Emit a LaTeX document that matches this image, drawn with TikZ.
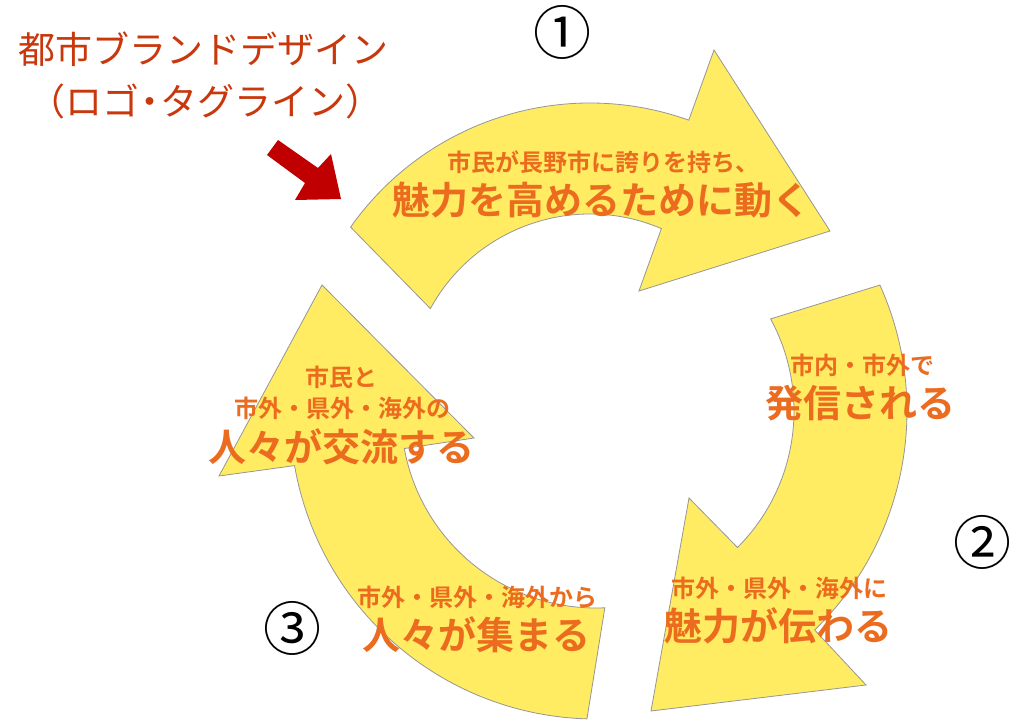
\documentclass[tikz,border=0pt]{standalone}
\usepackage{fontspec}
\usetikzlibrary{calc}
\newfontfamily\jp{Noto Sans CJK JP}[BoldFont={Noto Sans CJK JP Bold}]
\definecolor{arrowfill}{RGB}{255,236,99}
\definecolor{arrowline}{RGB}{150,150,150}
\definecolor{labelorange}{RGB}{236,108,31}
\definecolor{titlered}{RGB}{200,56,12}
\definecolor{markred}{RGB}{192,0,0}
\begin{document}
\begin{tikzpicture}[x=1pt,y=-1pt,
  cyclearrow/.style={fill=arrowfill,draw=arrowline,line width=0.8pt,line join=miter},
  smalllabel/.style={inner sep=0pt,text=labelorange,font=\jp\bfseries\fontsize{24}{24}\selectfont},
  biglabel/.style={inner sep=0pt,text=labelorange,font=\jp\bfseries\fontsize{38}{38}\selectfont},
  titletext/.style={inner sep=0pt,text=titlered,font=\jp\fontsize{37}{37}\selectfont},
  stepnum/.style={inner sep=0pt,font=\jp\fontsize{58}{58}\selectfont}]
\useasboundingbox (0,0) rectangle (1010,726);
\fill[white] (0,0) rectangle (1010,726);

% cycle arrows
\coordinate (c1) at (590,396);
\coordinate (c2) at (601,411);
\coordinate (c3) at (596,413);
\draw[cyclearrow] ($(c1)+(215.2:293)$) arc[start angle=215.2,end angle=289.7,radius=293]
  -- (714,50) -- (830,231) -- (639,291)
  -- ($(c1)+(293.1:182)$) arc[start angle=293.1,end angle=208.7,radius=182] -- cycle;
\draw[cyclearrow] ($(c2)+(-24.3:306)$) arc[start angle=-24.3,end angle=45.7,radius=306]
  -- (866,685) -- (651,711) -- (689,498)
  -- ($(c2)+(45:193)$) arc[start angle=45,end angle=-28.5,radius=193] -- cycle;
\draw[cyclearrow] ($(c3)+(91.7:306)$) arc[start angle=91.7,end angle=170.1,radius=306]
  -- (219,476) -- (322,285) -- (474,438)
  -- ($(c3)+(169.5:195)$) arc[start angle=169.5,end angle=87.4,radius=195] -- cycle;

% red pointer arrow
\fill[markred] (267,155) -- (278,140) -- (318,168) -- (331,154) -- (341,199) -- (295,200) -- (305,183) -- cycle;

% title
\node[titletext] (brand) at (204,49) {都市ブランドデザイン};
\node[titletext] (brandsub) at (205,101) {（ロゴ\hspace{-8pt}・\hspace{-8pt}タグライン）};

% step numbers
\node[stepnum] (n1) at (562,32) {①};
\node[stepnum] (n2) at (982,542) {②};
\node[stepnum] (n3) at (292,628) {③};

% labels
\node[smalllabel] (a1s) at (603,162) {市民が長野市に誇りを持ち、};
\node[biglabel] (a1b) at (601,200) {魅力を高めるために動く};
\node[smalllabel] (a2s) at (862,365) {市内・市外で};
\node[biglabel] (a2b) at (860,403) {発信される};
\node[smalllabel] (a2t) at (779,588) {市外・県外・海外に};
\node[biglabel] (a2c) at (778,626) {魅力が伝わる};
\node[smalllabel] (a3s) at (477,597) {市外・県外・海外から};
\node[biglabel] (a3b) at (476,635) {人々が集まる};
\node[smalllabel] (a4s) at (341,377) {市民と};
\node[smalllabel] (a4t) at (342,408) {市外・県外・海外の};
\node[biglabel] (a4b) at (341,447) {人々が交流する};
\end{tikzpicture}
\end{document}
